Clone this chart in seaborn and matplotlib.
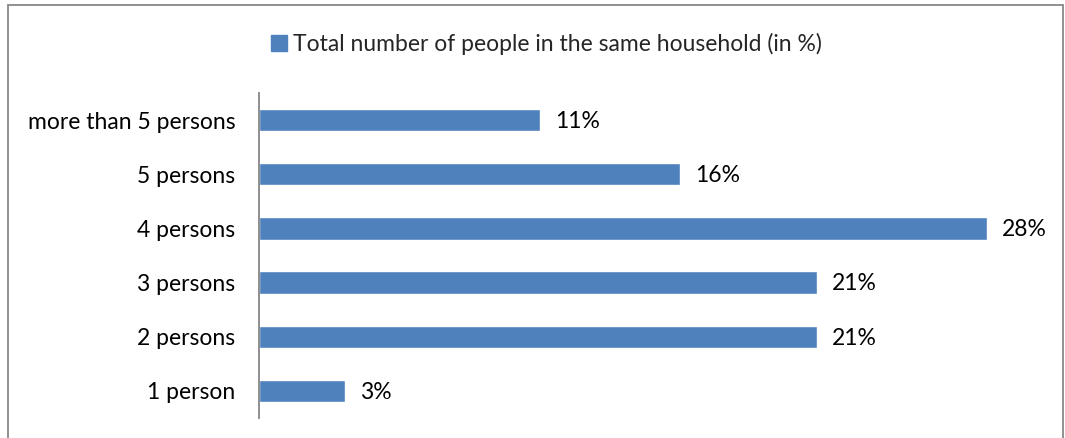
import matplotlib
matplotlib.use("Agg")
import matplotlib.pyplot as plt
import matplotlib.patches as mpatches
import pandas as pd
import seaborn as sns

# data (top to bottom in the picture)
categories = ['more than 5 persons', '5 persons', '4 persons', '3 persons', '2 persons', '1 person']
values = [10.8, 16.2, 28.0, 21.45, 21.45, 3.3]
series_name = 'Total number of people in the same household (in %)'

df = pd.DataFrame({'category': categories, 'value': values})

sns.set_style('white')
plt.rcParams['font.family'] = ['Lato', 'DejaVu Sans']

fig = plt.figure(figsize=(10.65, 4.38), dpi=100)
ax = fig.add_axes([259 / 1065, 1 - 418 / 438, (1039 - 259) / 1065, (418 - 93) / 438])

bar_color = '#4F81BD'
sns.barplot(data=df, x='value', y='category', orient='h', color=bar_color,
            width=0.41, ax=ax, saturation=1)

ax.set_xlim(0, 30)
ax.set_ylim(5.5, -0.5)
ax.set_xlabel('')
ax.set_ylabel('')
ax.set_xticks([])
ax.tick_params(axis='y', length=0, pad=17, labelsize=16.5, labelcolor='black')

for s in ['top', 'right', 'bottom']:
    ax.spines[s].set_visible(False)
ax.spines['left'].set_color('#868686')
ax.spines['left'].set_linewidth(1.3)

for i, v in enumerate(values):
    ax.annotate(f'{v:.0f}%', xy=(v, i), xytext=(11, -1), textcoords='offset points',
                va='center', ha='left', fontsize=16.5, color='black')

handle = mpatches.Patch(color=bar_color, label=series_name)
ax.legend(handles=[handle], loc='center', bbox_to_anchor=(0.513, 1 - 44 / 438),
          bbox_transform=fig.transFigure, frameon=False, fontsize=16.5,
          handlelength=0.7, handleheight=0.7, handletextpad=0.25)

# outer chart border
fig.patches.append(mpatches.Rectangle((8 / 1065, -0.05), (1063 - 8) / 1065, 1.05 - 5 / 438,
                                      transform=fig.transFigure, fill=False,
                                      edgecolor='#888888', linewidth=1.3))

fig.savefig('out.png', dpi=100)
